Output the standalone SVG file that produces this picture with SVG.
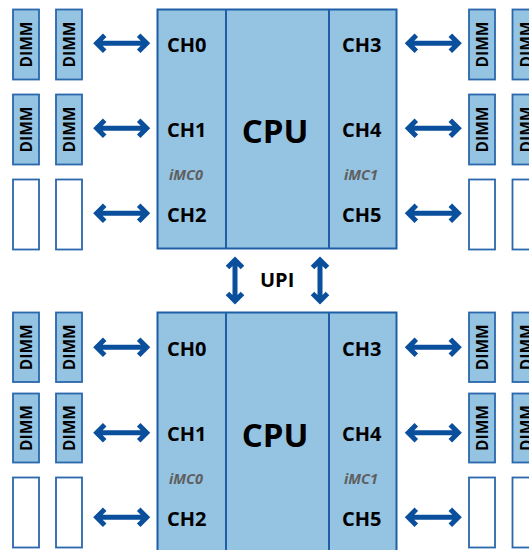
<svg xmlns="http://www.w3.org/2000/svg" width="529" height="550" viewBox="0 0 529 550">
<style>
.cpu{fill:#95c3e2;stroke:#1f5fa6;stroke-width:2}
.div{stroke:#1f5fa6;stroke-width:2}
.dimm{fill:#95c3e2;stroke:#2a67ac;stroke-width:1.8}
.empty{fill:#ffffff;stroke:#2a67ac;stroke-width:1.8}
.ch{font-family:"Open Sans",sans-serif;font-weight:700;font-size:20px;fill:#000}
.cpul{font-family:"Open Sans",sans-serif;font-weight:700;font-size:33px;fill:#000;text-anchor:middle}
.imc{font-family:"Open Sans",sans-serif;font-weight:700;font-style:italic;font-size:14.5px;fill:#5f5f5f}
.dl{font-family:"Open Sans",sans-serif;font-weight:700;font-size:15.5px;fill:#000;text-anchor:middle}
.upi{font-family:"Open Sans",sans-serif;font-weight:700;font-size:20px;fill:#000}
.arr{fill:none;stroke:#0a4f9c;stroke-width:5;stroke-linecap:butt;stroke-linejoin:miter}
</style>
<defs>
<path id="ha" class="arr" d="M -23 0 H 23 M -17 -8 L -25 0 L -17 8 M 17 -8 L 25 0 L 17 8"/>
<path id="va" class="arr" d="M 0 -19.5 V 19.5 M -7.5 -13 L 0 -20.5 L 7.5 -13 M -7.5 13 L 0 20.5 L 7.5 13"/>
</defs>

<g id="connectors">
<use href="#ha" x="121.7" y="43.3"/>
<use href="#ha" x="121.7" y="128.3"/>
<use href="#ha" x="121.7" y="213.3"/>
<use href="#ha" x="433.3" y="43.3"/>
<use href="#ha" x="433.3" y="128.3"/>
<use href="#ha" x="433.3" y="213.3"/>
<use href="#ha" x="121.7" y="347.3"/>
<use href="#ha" x="121.7" y="432.7"/>
<use href="#ha" x="121.7" y="517.3"/>
<use href="#ha" x="433.3" y="347.3"/>
<use href="#ha" x="433.3" y="432.7"/>
<use href="#ha" x="433.3" y="517.3"/>
<use href="#va" x="235" y="280.5"/>
<use href="#va" x="320" y="280.5"/>
</g>

<g id="cpu-top">
<rect class="cpu" x="157.5" y="9.5" width="239" height="239"/>
<line class="div" x1="226" y1="9.5" x2="226" y2="248.5"/>
<line class="div" x1="329" y1="9.5" x2="329" y2="248.5"/>
<text class="ch" x="167" y="51.5">CH0</text>
<text class="ch" x="167" y="136.5">CH1</text>
<text class="ch" x="167" y="221.5">CH2</text>
<text class="ch" x="342" y="51.5">CH3</text>
<text class="ch" x="342" y="136.5">CH4</text>
<text class="ch" x="342" y="221.5">CH5</text>
<text class="imc" x="169" y="180">iMC0</text>
<text class="imc" x="344" y="180">iMC1</text>
<text class="cpul" x="275" y="143">CPU</text>
</g>

<g id="cpu-bottom">
<rect class="cpu" x="157.5" y="312.5" width="239" height="239"/>
<line class="div" x1="226" y1="312.5" x2="226" y2="551"/>
<line class="div" x1="329" y1="312.5" x2="329" y2="551"/>
<text class="ch" x="167" y="355.5">CH0</text>
<text class="ch" x="167" y="440.5">CH1</text>
<text class="ch" x="167" y="525.5">CH2</text>
<text class="ch" x="342" y="355.5">CH3</text>
<text class="ch" x="342" y="440.5">CH4</text>
<text class="ch" x="342" y="525.5">CH5</text>
<text class="imc" x="169" y="484">iMC0</text>
<text class="imc" x="344" y="484">iMC1</text>
<text class="cpul" x="275" y="447">CPU</text>
</g>

<g id="upi"><text class="upi" x="260" y="286.5">UPI</text></g>

<g id="dimms-top-left">
<rect class="dimm" x="13" y="9.5" width="26" height="70"/>
<text class="dl" transform="translate(32 44.5) rotate(-90)">DIMM</text>
<rect class="dimm" x="56" y="9.5" width="26" height="70"/>
<text class="dl" transform="translate(75 44.5) rotate(-90)">DIMM</text>
<rect class="dimm" x="13" y="94.5" width="26" height="70"/>
<text class="dl" transform="translate(32 129.5) rotate(-90)">DIMM</text>
<rect class="dimm" x="56" y="94.5" width="26" height="70"/>
<text class="dl" transform="translate(75 129.5) rotate(-90)">DIMM</text>
<rect class="empty" x="13" y="179.5" width="26" height="70"/>
<rect class="empty" x="56" y="179.5" width="26" height="70"/>
</g>

<g id="dimms-top-right">
<rect class="dimm" x="469" y="9.5" width="26" height="70"/>
<text class="dl" transform="translate(488 44.5) rotate(-90)">DIMM</text>
<rect class="dimm" x="512.5" y="9.5" width="26" height="70"/>
<text class="dl" transform="translate(531.5 44.5) rotate(-90)">DIMM</text>
<rect class="dimm" x="469" y="94.5" width="26" height="70"/>
<text class="dl" transform="translate(488 129.5) rotate(-90)">DIMM</text>
<rect class="dimm" x="512.5" y="94.5" width="26" height="70"/>
<text class="dl" transform="translate(531.5 129.5) rotate(-90)">DIMM</text>
<rect class="empty" x="469" y="179.5" width="26" height="70"/>
<rect class="empty" x="512.5" y="179.5" width="26" height="70"/>
</g>

<g id="dimms-bottom-left">
<rect class="dimm" x="13" y="312.5" width="26" height="69.5"/>
<text class="dl" transform="translate(32 347.3) rotate(-90)">DIMM</text>
<rect class="dimm" x="56" y="312.5" width="26" height="69.5"/>
<text class="dl" transform="translate(75 347.3) rotate(-90)">DIMM</text>
<rect class="dimm" x="13" y="393.5" width="26" height="69"/>
<text class="dl" transform="translate(32 428) rotate(-90)">DIMM</text>
<rect class="dimm" x="56" y="393.5" width="26" height="69"/>
<text class="dl" transform="translate(75 428) rotate(-90)">DIMM</text>
<rect class="empty" x="13" y="477.5" width="26" height="70"/>
<rect class="empty" x="56" y="477.5" width="26" height="70"/>
</g>

<g id="dimms-bottom-right">
<rect class="dimm" x="469" y="312.5" width="26" height="69.5"/>
<text class="dl" transform="translate(488 347.3) rotate(-90)">DIMM</text>
<rect class="dimm" x="512.5" y="312.5" width="26" height="69.5"/>
<text class="dl" transform="translate(531.5 347.3) rotate(-90)">DIMM</text>
<rect class="dimm" x="469" y="393.5" width="26" height="69"/>
<text class="dl" transform="translate(488 428) rotate(-90)">DIMM</text>
<rect class="dimm" x="512.5" y="393.5" width="26" height="69"/>
<text class="dl" transform="translate(531.5 428) rotate(-90)">DIMM</text>
<rect class="empty" x="469" y="477.5" width="26" height="70"/>
<rect class="empty" x="512.5" y="477.5" width="26" height="70"/>
</g>
</svg>
